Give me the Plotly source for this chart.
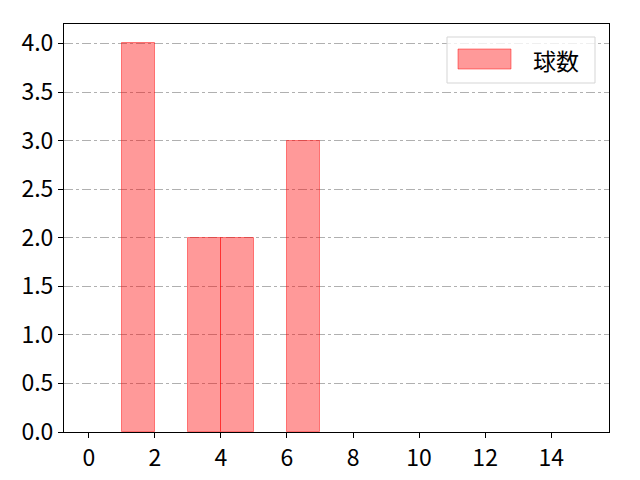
import plotly.graph_objs as go

# histogram bins (edges 0..15) and counts per bin
bin_edges = list(range(0, 16))
counts = [0, 4, 0, 2, 2, 0, 3, 0, 0, 0, 0, 0, 0, 0, 0]
series_name = "球数"
x_ticks = [0, 2, 4, 6, 8, 10, 12, 14]
y_ticks = [0.0, 0.5, 1.0, 1.5, 2.0, 2.5, 3.0, 3.5, 4.0]

centers = [(bin_edges[i] + bin_edges[i + 1]) / 2 for i in range(len(counts))]
widths = [bin_edges[i + 1] - bin_edges[i] for i in range(len(counts))]
edge_w = [1 if c > 0 else 0 for c in counts]

font = "Noto Sans CJK JP"
off = 8  # page body margin around the plot div

# plot box in window pixels: left 64, right 609, top 24, bottom 432
L, R, T, B = 64, 609, 24, 432
W, H = 640 - off, 480 - off

trace = go.Bar(
    x=centers, y=counts, width=widths, name=series_name,
    marker=dict(color="rgba(255,0,0,0.4)",
                line=dict(color="rgba(255,0,0,0.45)", width=edge_w)),
    showlegend=False,
)

fig = go.Figure(data=[trace])
fig.update_layout(
    width=W, height=H,
    margin=dict(l=L - off, r=640 - R, t=T - off, b=480 - B),
    paper_bgcolor="white", plot_bgcolor="white",
    font=dict(family=font, size=23, color="black"),
    bargap=0,
    xaxis=dict(range=[-0.75, 15.75], tickvals=x_ticks, ticktext=[str(v) for v in x_ticks],
               showgrid=False, zeroline=False, showline=True, linecolor="black",
               linewidth=1, mirror=True, ticks="outside", ticklen=5, tickcolor="black",
               automargin=False),
    yaxis=dict(range=[0, 4.2], tickvals=y_ticks, ticktext=["%.1f" % v for v in y_ticks],
               showgrid=True, gridcolor="#b0b0b0", griddash="dashdot", gridwidth=1,
               zeroline=False, showline=True, linecolor="black",
               linewidth=1, mirror=True, ticks="outside", ticklen=5, tickcolor="black",
               automargin=False),
)

pw, ph = R - L, B - T
# legend drawn like matplotlib's
fig.add_shape(type="rect", xref="paper", yref="paper",
              x0=(447 - L) / pw, x1=(595 - L) / pw,
              y0=(B - 83) / ph, y1=(B - 37) / ph,
              line=dict(color="#d5d5d5", width=1), fillcolor="rgba(255,255,255,0.8)",
              layer="above")
fig.add_shape(type="rect", xref="paper", yref="paper",
              x0=(458 - L) / pw, x1=(511 - L) / pw,
              y0=(B - 69) / ph, y1=(B - 49) / ph,
              line=dict(color="rgba(255,0,0,0.45)", width=1), fillcolor="rgba(255,0,0,0.4)",
              layer="above")
fig.add_annotation(xref="paper", yref="paper", x=(531 - L) / pw, y=(B - 60) / ph,
                   text=series_name, showarrow=False, xanchor="left", yanchor="middle",
                   font=dict(family=font, size=23, color="black"))

fig.write_html("out.html")
